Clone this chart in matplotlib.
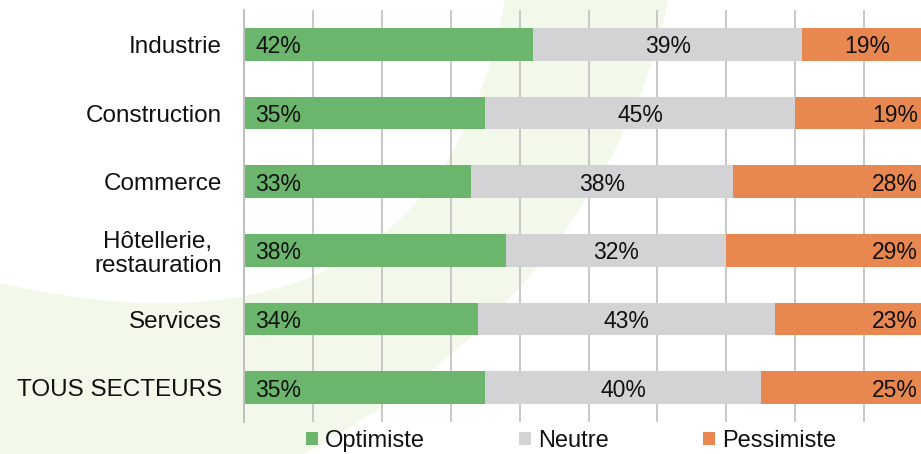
import matplotlib
matplotlib.use("Agg")
import matplotlib.pyplot as plt
from matplotlib.path import Path
from matplotlib.patches import PathPatch, Patch
import numpy as np

# ---- data ----
categories = ["Industrie", "Construction", "Commerce",
              "Hôtellerie,\nrestauration", "Services", "TOUS SECTEURS"]
optimiste = [42, 35, 33, 38, 34, 35]
neutre = [39, 45, 38, 32, 43, 40]
pessimiste = [19, 19, 28, 29, 23, 25]
series_names = ["Optimiste", "Neutre", "Pessimiste"]

# ---- style ----
colors = ["#6BB56C", "#D3D3D5", "#E8874F"]
text_color = "#111111"
grid_color = "#BFBFBF"
bg_green = "#F3F9EA"
pess_centered = [True, False, False, False, False, False]

plt.rcParams["font.family"] = ["Liberation Sans", "DejaVu Sans"]

W, H = 921, 454
fig = plt.figure(figsize=(W / 100, H / 100), dpi=100)
fig.patch.set_facecolor("white")


def P(x, y):
    return (x / W, 1 - y / H)


# decorative background crescent
verts = [P(0, 283), P(290, 350), P(460, 250), P(505, 0),
         P(668, 0), P(640, 150), P(520, 360), P(250, 480),
         P(0, 480), P(0, 283)]
codes = [Path.MOVETO, Path.CURVE4, Path.CURVE4, Path.CURVE4,
         Path.LINETO, Path.CURVE4, Path.CURVE4, Path.CURVE4,
         Path.LINETO, Path.CLOSEPOLY]
fig.patches.append(PathPatch(Path(verts, codes), transform=fig.transFigure,
                             facecolor=bg_green, edgecolor="none", zorder=-5))

ax = fig.add_axes([244 / W, (H - 422) / H, 689 / W, 412 / H])
ax.set_zorder(1)
ax.set_facecolor("none")

y = np.arange(len(categories))
bar_h = 0.48
series = [optimiste, neutre, pessimiste]
left = np.zeros(len(categories))
for vals, col, name in zip(series, colors, series_names):
    ax.barh(y, vals, left=left, height=bar_h, color=col, edgecolor="none",
            label=name, zorder=2)
    left = left + np.array(vals)

# value labels
lab_fs = 16.5
va = "center_baseline"
for i in range(len(categories)):
    ax.text(1.6, y[i], f"{optimiste[i]}%", ha="left", va=va,
            fontsize=lab_fs, color=text_color, zorder=3)
    ax.text(optimiste[i] + neutre[i] / 2, y[i], f"{neutre[i]}%", ha="center",
            va=va, fontsize=lab_fs, color=text_color, zorder=3)
    s = optimiste[i] + neutre[i]
    if pess_centered[i]:
        ax.text(s + pessimiste[i] / 2, y[i], f"{pessimiste[i]}%", ha="center",
                va=va, fontsize=lab_fs, color=text_color, zorder=3)
    else:
        ax.text(97.8, y[i], f"{pessimiste[i]}%", ha="right",
                va=va, fontsize=lab_fs, color=text_color, zorder=3)

ax.set_xlim(0, 100)
ax.set_ylim(len(categories) - 0.5, -0.5)
ax.set_xticks(np.arange(0, 101, 10))
ax.set_xticklabels([])
ax.xaxis.grid(True, color=grid_color, linewidth=1.2)
ax.set_axisbelow(True)
ax.tick_params(axis="both", length=0)
ax.set_yticks(y)
ax.set_yticklabels(categories, fontsize=17.5, color=text_color)
ax.tick_params(axis="y", pad=16)
for lbl in ax.get_yticklabels():
    lbl.set_multialignment("center")
    lbl.set_linespacing(1.1)
for side in ["top", "right", "bottom"]:
    ax.spines[side].set_visible(False)
ax.spines["left"].set_color(grid_color)
ax.spines["left"].set_linewidth(1.4)

handles = [Patch(facecolor=c, edgecolor="none") for c in colors]
fig.legend(handles, series_names, loc="center",
           bbox_to_anchor=(571 / W, 1 - 441 / H), bbox_transform=fig.transFigure,
           ncol=3, frameon=False, fontsize=17, handlelength=0.5,
           handleheight=0.5, handletextpad=0.3, columnspacing=4.0,
           labelcolor=text_color)

fig.savefig("out.png", dpi=100, facecolor="white")
